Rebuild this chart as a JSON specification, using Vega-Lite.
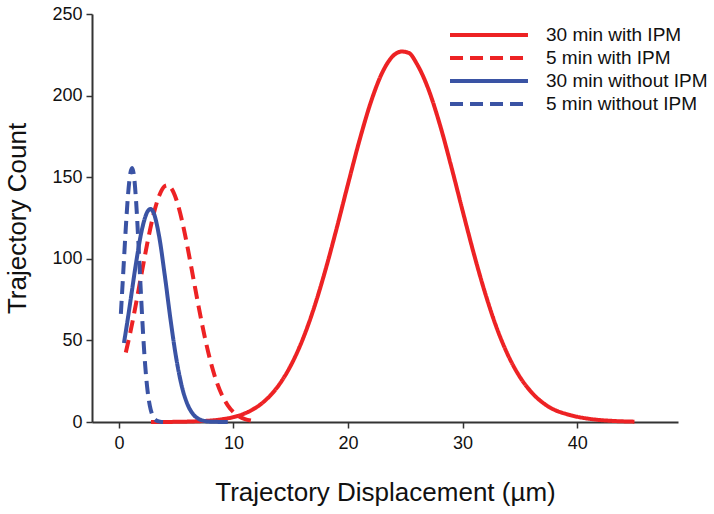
{
  "$schema": "https://vega.github.io/schema/vega-lite/v6.json",
  "width": 586,
  "height": 408,
  "autosize": {"type": "none"},
  "padding": {"left": 92, "top": 14, "right": 36, "bottom": 92},
  "config": {"view": {"stroke": null}, "font": "Liberation Sans", "background": "white"},
  "data": {"values": [
    {"series": "30 min with IPM", "x": 2.8, "y": 0},
    {"series": "30 min with IPM", "x": 5, "y": 0.1},
    {"series": "30 min with IPM", "x": 7, "y": 0.5},
    {"series": "30 min with IPM", "x": 8, "y": 0.9},
    {"series": "30 min with IPM", "x": 9, "y": 1.7},
    {"series": "30 min with IPM", "x": 10, "y": 3.0},
    {"series": "30 min with IPM", "x": 11, "y": 5.3},
    {"series": "30 min with IPM", "x": 12, "y": 9.0},
    {"series": "30 min with IPM", "x": 13, "y": 14.7},
    {"series": "30 min with IPM", "x": 14, "y": 23.0},
    {"series": "30 min with IPM", "x": 15, "y": 34.6},
    {"series": "30 min with IPM", "x": 16, "y": 49.9},
    {"series": "30 min with IPM", "x": 17, "y": 69.3},
    {"series": "30 min with IPM", "x": 18, "y": 92.5},
    {"series": "30 min with IPM", "x": 19, "y": 118.5},
    {"series": "30 min with IPM", "x": 20, "y": 145.9},
    {"series": "30 min with IPM", "x": 21, "y": 172.6},
    {"series": "30 min with IPM", "x": 22, "y": 196.2},
    {"series": "30 min with IPM", "x": 23, "y": 214.3},
    {"series": "30 min with IPM", "x": 24, "y": 224.8},
    {"series": "30 min with IPM", "x": 24.7, "y": 227},
    {"series": "30 min with IPM", "x": 25.3, "y": 226.2},
    {"series": "30 min with IPM", "x": 26, "y": 219.5},
    {"series": "30 min with IPM", "x": 27, "y": 204.2},
    {"series": "30 min with IPM", "x": 28, "y": 182.6},
    {"series": "30 min with IPM", "x": 29, "y": 156.8},
    {"series": "30 min with IPM", "x": 30, "y": 129.4},
    {"series": "30 min with IPM", "x": 31, "y": 102.6},
    {"series": "30 min with IPM", "x": 32, "y": 78.2},
    {"series": "30 min with IPM", "x": 33, "y": 57.2},
    {"series": "30 min with IPM", "x": 34, "y": 40.4},
    {"series": "30 min with IPM", "x": 35, "y": 27.6},
    {"series": "30 min with IPM", "x": 36, "y": 18.3},
    {"series": "30 min with IPM", "x": 37, "y": 11.8},
    {"series": "30 min with IPM", "x": 38, "y": 7.5},
    {"series": "30 min with IPM", "x": 39, "y": 5.0},
    {"series": "30 min with IPM", "x": 40, "y": 3.2},
    {"series": "30 min with IPM", "x": 41, "y": 2.0},
    {"series": "30 min with IPM", "x": 42, "y": 1.2},
    {"series": "30 min with IPM", "x": 43, "y": 0.7},
    {"series": "30 min with IPM", "x": 44, "y": 0.4},
    {"series": "30 min with IPM", "x": 45, "y": 0.2},

    {"series": "5 min with IPM", "x": 0.6, "y": 42.6},
    {"series": "5 min with IPM", "x": 1, "y": 55.1},
    {"series": "5 min with IPM", "x": 1.5, "y": 72.8},
    {"series": "5 min with IPM", "x": 2, "y": 91.8},
    {"series": "5 min with IPM", "x": 2.5, "y": 110.3},
    {"series": "5 min with IPM", "x": 3, "y": 126.6},
    {"series": "5 min with IPM", "x": 3.5, "y": 138.4},
    {"series": "5 min with IPM", "x": 4, "y": 144.5},
    {"series": "5 min with IPM", "x": 4.2, "y": 145},
    {"series": "5 min with IPM", "x": 4.5, "y": 143.8},
    {"series": "5 min with IPM", "x": 5, "y": 136.5},
    {"series": "5 min with IPM", "x": 5.5, "y": 123.6},
    {"series": "5 min with IPM", "x": 6, "y": 106.7},
    {"series": "5 min with IPM", "x": 6.5, "y": 87.9},
    {"series": "5 min with IPM", "x": 7, "y": 69.1},
    {"series": "5 min with IPM", "x": 7.5, "y": 51.8},
    {"series": "5 min with IPM", "x": 8, "y": 37.0},
    {"series": "5 min with IPM", "x": 8.5, "y": 25.2},
    {"series": "5 min with IPM", "x": 9, "y": 16.4},
    {"series": "5 min with IPM", "x": 9.5, "y": 10.2},
    {"series": "5 min with IPM", "x": 10, "y": 6.0},
    {"series": "5 min with IPM", "x": 10.5, "y": 3.4},
    {"series": "5 min with IPM", "x": 11, "y": 1.8},
    {"series": "5 min with IPM", "x": 11.5, "y": 0.9},
    {"series": "5 min with IPM", "x": 12, "y": 0.4},

    {"series": "30 min without IPM", "x": 0.44, "y": 48.4},
    {"series": "30 min without IPM", "x": 0.75, "y": 62.1},
    {"series": "30 min without IPM", "x": 1, "y": 73.9},
    {"series": "30 min without IPM", "x": 1.5, "y": 97.6},
    {"series": "30 min without IPM", "x": 2, "y": 117.6},
    {"series": "30 min without IPM", "x": 2.5, "y": 129.0},
    {"series": "30 min without IPM", "x": 2.75, "y": 130.5},
    {"series": "30 min without IPM", "x": 3, "y": 128.6},
    {"series": "30 min without IPM", "x": 3.5, "y": 114.2},
    {"series": "30 min without IPM", "x": 4, "y": 90.0},
    {"series": "30 min without IPM", "x": 4.5, "y": 63.0},
    {"series": "30 min without IPM", "x": 5, "y": 39.2},
    {"series": "30 min without IPM", "x": 5.5, "y": 21.6},
    {"series": "30 min without IPM", "x": 6, "y": 10.6},
    {"series": "30 min without IPM", "x": 6.5, "y": 4.6},
    {"series": "30 min without IPM", "x": 7, "y": 1.8},
    {"series": "30 min without IPM", "x": 7.5, "y": 0.6},
    {"series": "30 min without IPM", "x": 8, "y": 0.2},
    {"series": "30 min without IPM", "x": 9.5, "y": 0},

    {"series": "5 min without IPM", "x": 0.17, "y": 66.2},
    {"series": "5 min without IPM", "x": 0.4, "y": 94.4},
    {"series": "5 min without IPM", "x": 0.6, "y": 118.9},
    {"series": "5 min without IPM", "x": 0.8, "y": 139.6},
    {"series": "5 min without IPM", "x": 1.0, "y": 152.5},
    {"series": "5 min without IPM", "x": 1.15, "y": 155.6},
    {"series": "5 min without IPM", "x": 1.3, "y": 151.6},
    {"series": "5 min without IPM", "x": 1.5, "y": 135.2},
    {"series": "5 min without IPM", "x": 1.7, "y": 110.0},
    {"series": "5 min without IPM", "x": 1.9, "y": 81.6},
    {"series": "5 min without IPM", "x": 2.1, "y": 55.2},
    {"series": "5 min without IPM", "x": 2.3, "y": 34.1},
    {"series": "5 min without IPM", "x": 2.5, "y": 19.2},
    {"series": "5 min without IPM", "x": 2.7, "y": 9.9},
    {"series": "5 min without IPM", "x": 2.9, "y": 4.6},
    {"series": "5 min without IPM", "x": 3.1, "y": 2.0},
    {"series": "5 min without IPM", "x": 3.3, "y": 0.8},
    {"series": "5 min without IPM", "x": 3.6, "y": 0.2},
    {"series": "5 min without IPM", "x": 3.85, "y": 0.05}
  ]},
  "mark": {"type": "line", "strokeWidth": 4, "clip": false, "interpolate": "monotone"},
  "encoding": {
    "x": {
      "field": "x", "type": "quantitative",
      "scale": {"domain": [-2.35, 48.8], "nice": false, "zero": false},
      "axis": {
        "title": "Trajectory Displacement (µm)",
        "values": [0, 10, 20, 30, 40],
        "grid": false, "domainColor": "#333333", "domainWidth": 2,
        "tickColor": "#333333", "tickWidth": 1.5, "tickSize": 6,
        "labelFont": "Liberation Sans", "labelFontSize": 18, "labelColor": "#111111", "labelPadding": 6,
        "titleFont": "Liberation Sans", "titleFontSize": 26, "titleFontWeight": "normal", "titleColor": "#111111", "titlePadding": 27
      }
    },
    "y": {
      "field": "y", "type": "quantitative",
      "scale": {"domain": [0, 250], "nice": false},
      "axis": {
        "title": "Trajectory Count",
        "values": [0, 50, 100, 150, 200, 250],
        "grid": false, "domainColor": "#333333", "domainWidth": 2,
        "tickColor": "#333333", "tickWidth": 1.5, "tickSize": 6,
        "labelFont": "Liberation Sans", "labelFontSize": 18, "labelColor": "#111111", "labelPadding": 4,
        "titleFont": "Liberation Sans", "titleFontSize": 26, "titleFontWeight": "normal", "titleColor": "#111111", "titlePadding": 21
      }
    },
    "color": {
      "field": "series", "type": "nominal",
      "scale": {
        "domain": ["30 min with IPM", "5 min with IPM", "30 min without IPM", "5 min without IPM"],
        "range": ["#ED2224", "#ED2224", "#3A53A4", "#3A53A4"]
      },
      "legend": {
        "title": null, "orient": "none", "legendX": 385, "legendY": 9,
        "symbolType": "M-4,0H4", "symbolSize": 380, "symbolStrokeWidth": 4,
        "labelFont": "Liberation Sans", "labelFontSize": 19, "labelColor": "#111111", "labelLimit": 400,
        "labelOffset": 45, "rowPadding": 1, "padding": 0
      }
    },
    "strokeDash": {
      "field": "series", "type": "nominal",
      "scale": {
        "domain": ["30 min with IPM", "5 min with IPM", "30 min without IPM", "5 min without IPM"],
        "range": [[1, 0], [13, 7], [1, 0], [13, 7]]
      },
      "legend": {
        "title": null, "orient": "none", "legendX": 385, "legendY": 9,
        "symbolType": "M-4,0H4", "symbolSize": 380, "symbolStrokeWidth": 4,
        "labelFont": "Liberation Sans", "labelFontSize": 19, "labelColor": "#111111", "labelLimit": 400,
        "labelOffset": 45, "rowPadding": 1, "padding": 0
      }
    }
  }
}
